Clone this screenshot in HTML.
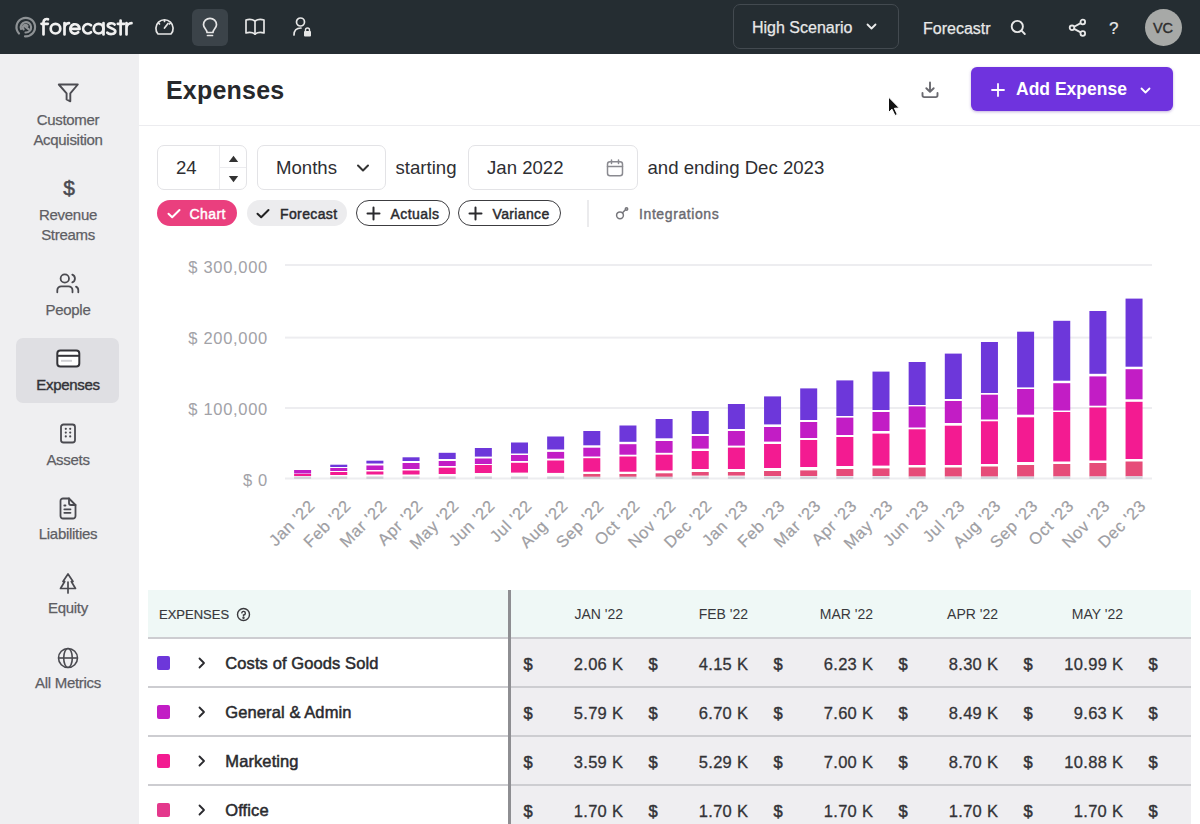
<!DOCTYPE html>
<html><head><meta charset="utf-8">
<style>
*{margin:0;padding:0;box-sizing:border-box}
html,body{width:1200px;height:824px;overflow:hidden;background:#fff;font-family:"Liberation Sans",sans-serif;color:#2b2b2e}
.a{position:absolute;white-space:nowrap;line-height:1}
svg{position:absolute;overflow:visible}
#hdr{position:absolute;left:0;top:0;width:1200px;height:54px;background:#252d32}
#side{position:absolute;left:0;top:54px;width:139px;height:770px;background:#efeff1}
.sl{position:absolute;left:0;width:136px;text-align:center;font-size:15px;letter-spacing:-0.3px;color:#5e5e64;-webkit-text-stroke:0.25px #5e5e64;line-height:1}
</style></head><body>
<div id="hdr"></div>
<!-- logo -->
<svg style="left:0;top:0" width="140" height="54" viewBox="0 0 140 54" fill="none" stroke-linecap="round" stroke-linejoin="round">
  <g stroke="#8e9295" stroke-width="2.2">
    <path d="M19 33.5 A9.3 9.3 0 1 1 25 36.4"/>
    <path d="M21 29 A5.2 5.2 0 1 1 25.5 32.5"/>
    <path d="M24.2 25.8 L28.5 29.2"/>
    <path d="M23.6 29.4 A2.6 2.6 0 1 1 27.5 26"/>
  </g>
  <g stroke="#f0f0f0" stroke-width="2.7">
    <path d="M43.5 34.5 V22 A3.2 3.2 0 0 1 48 19.3"/>
    <path d="M41.5 23.8 H47.8"/>
    <circle cx="55.5" cy="28.7" r="4.8"/>
    <path d="M64.5 34.5 V23 M64.5 27.5 A5 5 0 0 1 69 23.2"/>
    <path d="M70.4 28.9 H79.6 A4.7 4.7 0 1 0 78.2 32.3"/>
    <path d="M91 25.2 A4.7 4.7 0 1 0 91 32.2"/>
    <circle cx="98.6" cy="28.7" r="4.8"/>
    <path d="M103.5 23 V34.5"/>
    <path d="M114.6 24.5 C113.5 22.8 107.8 22.6 107.8 25.6 C107.8 28.6 115.3 27.9 115.3 31.3 C115.3 34.8 108.8 34.6 107.3 32.6"/>
    <path d="M120.6 20.5 V34.5 M117.8 23.8 H124.2"/>
    <path d="M126.5 34.5 V23 M126.5 27.5 A5 5 0 0 1 131.5 23.2"/>
  </g>
</svg>
<div class="a" style="display:none">forecastr</div>
<!-- header icons -->
<div style="position:absolute;left:192px;top:9px;width:36px;height:37px;border-radius:6px;background:#3b4349"></div>
<svg style="left:154px;top:17px" width="21" height="20" viewBox="0 0 21 20" fill="none" stroke="#e6e6e6" stroke-width="1.7" stroke-linecap="round" stroke-linejoin="round">
  <path d="M4 17 A8.6 8.6 0 1 1 17 17 Z"/>
  <path d="M10.5 11 L14 6.5"/><path d="M10.5 3 v1.5"/><path d="M4.5 6 l1 1"/><path d="M16.5 6 l-1 1"/>
</svg>
<svg style="left:201px;top:18px" width="18" height="19" viewBox="0 0 18 19" fill="none" stroke="#e6e6e6" stroke-width="1.7" stroke-linecap="round" stroke-linejoin="round">
  <path d="M6 14.5 C6 11.5 2.5 10 2.5 6.8 A6.5 6.5 0 0 1 15.5 6.8 C15.5 10 12 11.5 12 14.5 Z"/>
  <path d="M6.5 17.5 H11.5"/>
</svg>
<svg style="left:244px;top:17px" width="22" height="20" viewBox="0 0 22 20" fill="none" stroke="#e6e6e6" stroke-width="1.7" stroke-linejoin="round">
  <path d="M11 4 C8 2 5 2 2 3 V16 C5 15 8 15 11 17 C14 15 17 15 20 16 V3 C17 2 14 2 11 4 Z"/>
  <path d="M11 4 V18"/>
</svg>
<svg style="left:292px;top:16px" width="20" height="22" viewBox="0 0 20 22" fill="none" stroke="#e6e6e6" stroke-width="1.7" stroke-linecap="round">
  <circle cx="8.5" cy="6" r="4"/>
  <path d="M2 19 C2 14 5 12 9 12"/>
  <rect x="12" y="15" width="7" height="5.5" rx="1" fill="#e6e6e6" stroke="none"/>
  <path d="M13.5 15.5 v-1.5 a2 2 0 0 1 4 0 v1.5" stroke-width="1.4"/>
</svg>
<!-- scenario -->
<div style="position:absolute;left:733px;top:4px;width:166px;height:45px;border:1.5px solid #434a50;border-radius:7px"></div>
<div class="a" style="left:752px;top:19.5px;font-size:16px;color:#e8e8e8;-webkit-text-stroke:0.25px #e8e8e8">High Scenario</div>
<svg style="left:866px;top:23px" width="11" height="8" viewBox="0 0 11 8" fill="none" stroke="#ececec" stroke-width="1.8" stroke-linecap="round" stroke-linejoin="round"><path d="M1.5 1.5 L5.5 5.5 L9.5 1.5"/></svg>
<div class="a" style="left:923px;top:20.5px;font-size:16px;color:#e8e8e8;-webkit-text-stroke:0.25px #e8e8e8">Forecastr</div>
<svg style="left:1010px;top:19px" width="17" height="17" viewBox="0 0 17 17" fill="none" stroke="#e8e8e8" stroke-width="1.9" stroke-linecap="round"><circle cx="7.3" cy="7.5" r="5.6"/><path d="M11.5 11.7 L14.8 15"/></svg>
<svg style="left:1068px;top:18px" width="19" height="19" viewBox="0 0 19 19" fill="none" stroke="#e8e8e8" stroke-width="1.8"><circle cx="14.8" cy="4" r="2.3"/><circle cx="4" cy="9.8" r="2.3"/><circle cx="14.8" cy="15.5" r="2.3"/><path d="M6.1 8.7 L12.7 5.1 M6.1 10.9 L12.7 14.4"/></svg>
<div class="a" style="left:1109px;top:20px;font-size:17px;color:#e8e8e8;-webkit-text-stroke:0.2px #e8e8e8">?</div>
<div style="position:absolute;left:1145px;top:8.5px;width:37px;height:37px;border-radius:50%;background:#a7a9a7"></div>
<div class="a" style="left:1144.5px;top:20.5px;width:37px;text-align:center;font-size:14.5px;color:#2e2e2e;-webkit-text-stroke:0.4px #2e2e2e">VC</div>

<div id="side"></div>

<!-- sidebar items -->
<div style="position:absolute;left:16px;top:338px;width:103px;height:65px;border-radius:7px;background:#dfdfe3"></div>
<svg style="left:57px;top:83px" width="23" height="21" viewBox="0 0 23 21" fill="none" stroke="#4c4c52" stroke-width="1.9" stroke-linejoin="round"><path d="M1.8 1.5 H20.8 L13.3 10.3 V18.3 L9.6 16.5 V10.3 Z"/></svg>
<div class="sl" style="top:111.5px">Customer</div>
<div class="sl" style="top:132px">Acquisition</div>
<div class="a" style="left:0;width:138px;text-align:center;top:177px;font-size:21px;color:#4a4a50;-webkit-text-stroke:0.5px #4a4a50">$</div>
<div class="sl" style="top:206.5px">Revenue</div>
<div class="sl" style="top:226.5px">Streams</div>
<svg style="left:55px;top:272px" width="25" height="22" viewBox="0 0 25 22" fill="none" stroke="#4a4a50" stroke-width="1.8" stroke-linecap="round"><circle cx="9.8" cy="6.5" r="4.2"/><path d="M2.3 20.3 V18.3 A4 4 0 0 1 6.3 14.3 H13.5 A4 4 0 0 1 17.5 18.3 V20.3"/><path d="M17.3 2.6 A4.2 4.2 0 0 1 17.3 10.4"/><path d="M21 14.6 A4 4 0 0 1 23.3 18.3 V20.3"/></svg>
<div class="sl" style="top:302px">People</div>
<svg style="left:56px;top:349px" width="25" height="19" viewBox="0 0 25 19" fill="none" stroke="#333338" stroke-width="2"><rect x="1.3" y="1.5" width="22" height="16" rx="3" fill="#fff"/><path d="M1.3 6.8 H23.3"/><path d="M5 11.8 H16" stroke="#d0d0d4" stroke-width="2"/></svg>
<div class="sl" style="top:376.5px;color:#333338;-webkit-text-stroke:0.4px #333338">Expenses</div>
<svg style="left:59px;top:423px" width="18" height="21" viewBox="0 0 18 21" fill="none" stroke="#4a4a50" stroke-width="1.8"><rect x="2" y="1.5" width="14" height="18" rx="2.5"/><g fill="#4a4a50" stroke="none"><circle cx="6.8" cy="5.8" r="1.1"/><circle cx="11.2" cy="5.8" r="1.1"/><circle cx="6.8" cy="9.6" r="1.1"/><circle cx="11.2" cy="9.6" r="1.1"/><circle cx="6.8" cy="13.4" r="1.1"/><circle cx="11.2" cy="13.4" r="1.1"/></g></svg>
<div class="sl" style="top:451.5px">Assets</div>
<svg style="left:58px;top:497px" width="20" height="23" viewBox="0 0 20 23" fill="none" stroke="#4a4a50" stroke-width="1.8" stroke-linejoin="round" stroke-linecap="round"><path d="M2.5 4 A2.5 2.5 0 0 1 5 1.5 H11 L17.5 8 V19 A2.5 2.5 0 0 1 15 21.5 H5 A2.5 2.5 0 0 1 2.5 19 Z"/><path d="M11 1.5 V6 A2 2 0 0 0 13 8 H17.5"/><path d="M6.3 8.5 H7.5 M6.3 12.3 H12.5 M6.3 15.8 H12.5"/></svg>
<div class="sl" style="top:525.5px">Liabilities</div>
<svg style="left:58px;top:572px" width="20" height="23" viewBox="0 0 20 23" fill="none" stroke="#4a4a50" stroke-width="1.7" stroke-linejoin="round" stroke-linecap="round"><path d="M10 2 L15 9.5 H13.3 L17.5 16.5 H2.5 L6.7 9.5 H5 Z"/><path d="M10 10 V21"/></svg>
<div class="sl" style="top:600px">Equity</div>
<svg style="left:57px;top:647px" width="22" height="22" viewBox="0 0 22 22" fill="none" stroke="#4a4a50" stroke-width="1.6"><circle cx="11" cy="11" r="9.5"/><path d="M1.5 11 H20.5"/><ellipse cx="11" cy="11" rx="4.3" ry="9.5"/></svg>
<div class="sl" style="top:675px">All Metrics</div>

<!-- title area -->
<div class="a" style="left:166px;top:77.5px;font-size:25px;font-weight:bold;color:#27292c;letter-spacing:0.2px">Expenses</div>
<div style="position:absolute;left:139px;top:125px;width:1061px;height:1px;background:#ececef"></div>
<svg style="left:920px;top:81px" width="20" height="18" viewBox="0 0 20 18" fill="none" stroke="#6a6a70" stroke-width="1.9" stroke-linecap="round" stroke-linejoin="round"><path d="M10 1.5 V10.5 M6.3 7.2 L10 10.8 L13.7 7.2"/><path d="M2.5 12 V14.3 A1.8 1.8 0 0 0 4.3 16.1 H15.7 A1.8 1.8 0 0 0 17.5 14.3 V12"/></svg>
<svg style="left:887px;top:96px" width="14" height="21" viewBox="0 0 14 21"><path d="M1.5 1 V16.5 L5 13.2 L8 19.5 L10.3 18.4 L7.4 12.3 L12.3 12 Z" fill="#111" stroke="#fff" stroke-width="1"/></svg>
<div style="position:absolute;left:971px;top:67px;width:202px;height:44px;border-radius:6px;background:#6f33de;box-shadow:0 1px 3px rgba(80,30,160,0.35)"></div>
<svg style="left:990px;top:82px" width="16" height="16" viewBox="0 0 16 16" stroke="#fff" stroke-width="1.8" stroke-linecap="round"><path d="M8 2 V14 M2 8 H14"/></svg>
<div class="a" style="left:1016px;top:81px;font-size:17.5px;font-weight:bold;color:#fff">Add Expense</div>
<svg style="left:1140px;top:87px" width="11" height="7" viewBox="0 0 11 7" fill="none" stroke="#fff" stroke-width="1.8" stroke-linecap="round" stroke-linejoin="round"><path d="M1.5 1.5 L5.5 5.5 L9.5 1.5"/></svg>









<!-- GEN START -->
<div style="position:absolute;border:1px solid #e3e3e6;border-radius:7px;background:#fff;left:157px;top:145px;width:90px;height:45px"></div>
<div style="position:absolute;left:219px;top:146px;width:1px;height:43px;background:#ececef"></div>
<div style="position:absolute;left:220px;top:167px;width:26px;height:1px;background:#ececef"></div>
<svg style="left:228px;top:155px" width="11" height="8" viewBox="0 0 11 8"><path d="M5.5 0.8 L10.2 7 H0.8 Z" fill="#333"/></svg>
<svg style="left:228px;top:175px" width="11" height="8" viewBox="0 0 11 8"><path d="M5.5 7.2 L10.2 1 H0.8 Z" fill="#333"/></svg>
<div class="a" style="left:176px;top:159.16px;font-size:18.6px;color:#2e2e32">24</div>
<div style="position:absolute;border:1px solid #e3e3e6;border-radius:7px;background:#fff;left:257px;top:145px;width:129px;height:45px"></div>
<div class="a" style="left:276px;top:159.16px;font-size:18.6px;color:#2e2e32">Months</div>
<svg style="left:356px;top:163px" width="14" height="10" viewBox="0 0 14 10" fill="none" stroke="#333" stroke-width="2" stroke-linecap="round" stroke-linejoin="round"><path d="M2 2.5 L7 7.5 L12 2.5"/></svg>
<div class="a" style="left:395.5px;top:159.16px;font-size:18.6px;color:#2e2e32">starting</div>
<div style="position:absolute;border:1px solid #e3e3e6;border-radius:7px;background:#fff;left:468px;top:145px;width:170px;height:45px"></div>
<div class="a" style="left:487px;top:159.16px;font-size:18.6px;color:#2e2e32">Jan 2022</div>
<svg style="left:606px;top:159px" width="18" height="18" viewBox="0 0 18 18" fill="none" stroke="#8a8a90" stroke-width="1.5" stroke-linecap="round"><rect x="1.5" y="2.8" width="15" height="14" rx="2.5"/><path d="M1.5 7.5 H16.5 M5.5 1 V4.5 M12.5 1 V4.5"/></svg>
<div class="a" style="left:647.5px;top:159.16px;font-size:18.6px;color:#2e2e32">and ending Dec 2023</div>
<div style="position:absolute;left:157px;top:200px;width:80px;height:26px;border-radius:13px;background:#ea3f7e"></div>
<svg style="left:166px;top:207px" width="16" height="13" viewBox="0 0 16 13" fill="none" stroke="#fff" stroke-width="2" stroke-linecap="round" stroke-linejoin="round"><path d="M2.5 6.8 L6.2 10.3 L13.5 3"/></svg>
<div class="a" style="left:189.5px;top:206.65px;font-size:14px;color:#fff;-webkit-text-stroke:0.45px #fff;letter-spacing:0.4px">Chart</div>
<div style="position:absolute;left:247px;top:200px;width:100px;height:26px;border-radius:13px;background:#ececee"></div>
<svg style="left:255px;top:207px" width="16" height="13" viewBox="0 0 16 13" fill="none" stroke="#222" stroke-width="2" stroke-linecap="round" stroke-linejoin="round"><path d="M2.5 6.8 L6.2 10.3 L13.5 3"/></svg>
<div class="a" style="left:280px;top:206.65px;font-size:14px;color:#2a2a2e;-webkit-text-stroke:0.45px #2a2a2e;letter-spacing:0.38px">Forecast</div>
<div style="position:absolute;left:356px;top:200px;width:94px;height:26px;border-radius:13px;border:1.5px solid #3c3c40"></div>
<svg style="left:366px;top:206px" width="15" height="15" viewBox="0 0 15 15" stroke="#2a2a2e" stroke-width="2" stroke-linecap="round"><path d="M7.5 1.5 V13.5 M1.5 7.5 H13.5"/></svg>
<div class="a" style="left:390.5px;top:206.65px;font-size:14px;color:#2a2a2e;-webkit-text-stroke:0.45px #2a2a2e;letter-spacing:0.44px">Actuals</div>
<div style="position:absolute;left:458px;top:200px;width:103px;height:26px;border-radius:13px;border:1.5px solid #3c3c40"></div>
<svg style="left:468px;top:206px" width="15" height="15" viewBox="0 0 15 15" stroke="#2a2a2e" stroke-width="2" stroke-linecap="round"><path d="M7.5 1.5 V13.5 M1.5 7.5 H13.5"/></svg>
<div class="a" style="left:492.5px;top:206.65px;font-size:14px;color:#2a2a2e;-webkit-text-stroke:0.45px #2a2a2e;letter-spacing:0.36px">Variance</div>
<div style="position:absolute;left:587px;top:200px;width:2px;height:27px;background:#ebebed"></div>
<svg style="left:615px;top:206px" width="15" height="14" viewBox="0 0 15 14" fill="none" stroke="#77777c" stroke-width="1.5" stroke-linecap="round"><circle cx="5" cy="9.3" r="3.4"/><path d="M7.5 6.8 L10.5 3.8"/><circle cx="11.5" cy="3" r="1.2"/></svg>
<div class="a" style="left:639px;top:206.65px;font-size:14px;color:#6a6a70;-webkit-text-stroke:0.4px #6a6a70;letter-spacing:0.6px">Integrations</div>
<svg style="left:0;top:0" width="1200" height="824" viewBox="0 0 1200 824">
<rect x="285" y="264" width="867" height="2" fill="#ededf0"/>
<rect x="285" y="336.6" width="867" height="2" fill="#ededf0"/>
<rect x="285" y="407" width="867" height="2" fill="#ededf0"/>
<rect x="285" y="477.5" width="867" height="2" fill="#ededf0"/>
</svg>
<div class="a" style="left:0;width:268px;text-align:right;top:258.53px;font-size:16.5px;letter-spacing:0.7px;color:#a2a2a7">$ 300,000</div>
<div class="a" style="left:0;width:268px;text-align:right;top:330.03px;font-size:16.5px;letter-spacing:0.7px;color:#a2a2a7">$ 200,000</div>
<div class="a" style="left:0;width:268px;text-align:right;top:401.03px;font-size:16.5px;letter-spacing:0.7px;color:#a2a2a7">$ 100,000</div>
<div class="a" style="left:0;width:268px;text-align:right;top:472.03px;font-size:16.5px;letter-spacing:0.7px;color:#a2a2a7">$ 0</div>
<svg style="left:0;top:0" width="1200" height="824" viewBox="0 0 1200 824">
<rect x="294.10" y="470.00" width="17" height="3.50" fill="#c21dc5"/>
<rect x="294.10" y="474.00" width="17" height="2.00" fill="#f31b91"/>
<rect x="294.10" y="476.50" width="17" height="2.50" fill="#d3d1d9"/>
<rect x="330.25" y="464.70" width="17" height="2.30" fill="#6d37da"/>
<rect x="330.25" y="468.00" width="17" height="3.00" fill="#c21dc5"/>
<rect x="330.25" y="472.00" width="17" height="3.00" fill="#f31b91"/>
<rect x="330.25" y="476.50" width="17" height="2.50" fill="#d3d1d9"/>
<rect x="366.40" y="460.70" width="17" height="2.80" fill="#6d37da"/>
<rect x="366.40" y="465.50" width="17" height="4.50" fill="#c21dc5"/>
<rect x="366.40" y="471.50" width="17" height="3.00" fill="#f31b91"/>
<rect x="366.40" y="476.50" width="17" height="2.50" fill="#d3d1d9"/>
<rect x="402.55" y="457.30" width="17" height="3.70" fill="#6d37da"/>
<rect x="402.55" y="463.00" width="17" height="6.00" fill="#c21dc5"/>
<rect x="402.55" y="470.50" width="17" height="4.00" fill="#f31b91"/>
<rect x="402.55" y="476.50" width="17" height="2.50" fill="#d3d1d9"/>
<rect x="438.70" y="452.80" width="17" height="6.20" fill="#6d37da"/>
<rect x="438.70" y="461.00" width="17" height="5.00" fill="#c21dc5"/>
<rect x="438.70" y="467.70" width="17" height="6.30" fill="#f31b91"/>
<rect x="438.70" y="476.50" width="17" height="2.50" fill="#d3d1d9"/>
<rect x="474.85" y="448.00" width="17" height="8.60" fill="#6d37da"/>
<rect x="474.85" y="458.50" width="17" height="5.50" fill="#c21dc5"/>
<rect x="474.85" y="465.00" width="17" height="8.00" fill="#f31b91"/>
<rect x="474.85" y="476.50" width="17" height="2.50" fill="#d3d1d9"/>
<rect x="511.00" y="442.50" width="17" height="11.00" fill="#6d37da"/>
<rect x="511.00" y="455.00" width="17" height="6.00" fill="#c21dc5"/>
<rect x="511.00" y="462.80" width="17" height="9.80" fill="#f31b91"/>
<rect x="511.00" y="476.50" width="17" height="2.50" fill="#d3d1d9"/>
<rect x="547.15" y="436.50" width="17" height="13.00" fill="#6d37da"/>
<rect x="547.15" y="451.90" width="17" height="6.70" fill="#c21dc5"/>
<rect x="547.15" y="460.50" width="17" height="12.40" fill="#f31b91"/>
<rect x="547.15" y="476.50" width="17" height="2.50" fill="#d3d1d9"/>
<rect x="583.30" y="431.00" width="17" height="14.30" fill="#6d37da"/>
<rect x="583.30" y="447.70" width="17" height="8.80" fill="#c21dc5"/>
<rect x="583.30" y="458.20" width="17" height="13.50" fill="#f31b91"/>
<rect x="583.30" y="474.00" width="17" height="2.80" fill="#e64c79"/>
<rect x="583.30" y="476.80" width="17" height="2.20" fill="#d3d1d9"/>
<rect x="619.45" y="425.50" width="17" height="16.30" fill="#6d37da"/>
<rect x="619.45" y="444.20" width="17" height="10.50" fill="#c21dc5"/>
<rect x="619.45" y="456.50" width="17" height="15.20" fill="#f31b91"/>
<rect x="619.45" y="474.00" width="17" height="2.80" fill="#e64c79"/>
<rect x="619.45" y="476.80" width="17" height="2.20" fill="#d3d1d9"/>
<rect x="655.60" y="419.00" width="17" height="19.30" fill="#6d37da"/>
<rect x="655.60" y="441.00" width="17" height="11.80" fill="#c21dc5"/>
<rect x="655.60" y="454.70" width="17" height="15.80" fill="#f31b91"/>
<rect x="655.60" y="473.30" width="17" height="3.50" fill="#e64c79"/>
<rect x="655.60" y="476.80" width="17" height="2.20" fill="#d3d1d9"/>
<rect x="691.75" y="411.00" width="17" height="23.00" fill="#6d37da"/>
<rect x="691.75" y="436.00" width="17" height="12.60" fill="#c21dc5"/>
<rect x="691.75" y="451.00" width="17" height="18.00" fill="#f31b91"/>
<rect x="691.75" y="472.00" width="17" height="3.60" fill="#e64c79"/>
<rect x="691.75" y="476.50" width="17" height="2.50" fill="#d3d1d9"/>
<rect x="727.90" y="404.00" width="17" height="25.00" fill="#6d37da"/>
<rect x="727.90" y="431.00" width="17" height="14.60" fill="#c21dc5"/>
<rect x="727.90" y="447.60" width="17" height="21.40" fill="#f31b91"/>
<rect x="727.90" y="472.00" width="17" height="3.60" fill="#e64c79"/>
<rect x="727.90" y="476.50" width="17" height="2.50" fill="#d3d1d9"/>
<rect x="764.05" y="396.40" width="17" height="28.00" fill="#6d37da"/>
<rect x="764.05" y="427.00" width="17" height="14.60" fill="#c21dc5"/>
<rect x="764.05" y="444.00" width="17" height="24.00" fill="#f31b91"/>
<rect x="764.05" y="471.00" width="17" height="5.00" fill="#e64c79"/>
<rect x="764.05" y="476.50" width="17" height="2.50" fill="#d3d1d9"/>
<rect x="800.20" y="388.40" width="17" height="31.60" fill="#6d37da"/>
<rect x="800.20" y="422.00" width="17" height="16.00" fill="#c21dc5"/>
<rect x="800.20" y="440.00" width="17" height="27.00" fill="#f31b91"/>
<rect x="800.20" y="470.40" width="17" height="5.60" fill="#e64c79"/>
<rect x="800.20" y="476.50" width="17" height="2.50" fill="#d3d1d9"/>
<rect x="836.35" y="380.40" width="17" height="35.60" fill="#6d37da"/>
<rect x="836.35" y="417.60" width="17" height="17.40" fill="#c21dc5"/>
<rect x="836.35" y="437.00" width="17" height="29.00" fill="#f31b91"/>
<rect x="836.35" y="469.00" width="17" height="7.00" fill="#e64c79"/>
<rect x="836.35" y="476.50" width="17" height="2.50" fill="#d3d1d9"/>
<rect x="872.50" y="371.60" width="17" height="38.40" fill="#6d37da"/>
<rect x="872.50" y="412.00" width="17" height="19.00" fill="#c21dc5"/>
<rect x="872.50" y="433.60" width="17" height="32.00" fill="#f31b91"/>
<rect x="872.50" y="468.40" width="17" height="7.60" fill="#e64c79"/>
<rect x="872.50" y="476.50" width="17" height="2.50" fill="#d3d1d9"/>
<rect x="908.65" y="362.00" width="17" height="43.00" fill="#6d37da"/>
<rect x="908.65" y="406.40" width="17" height="21.10" fill="#c21dc5"/>
<rect x="908.65" y="429.30" width="17" height="35.70" fill="#f31b91"/>
<rect x="908.65" y="467.50" width="17" height="9.10" fill="#e64c79"/>
<rect x="908.65" y="476.60" width="17" height="2.40" fill="#d3d1d9"/>
<rect x="944.80" y="353.60" width="17" height="45.40" fill="#6d37da"/>
<rect x="944.80" y="401.00" width="17" height="22.00" fill="#c21dc5"/>
<rect x="944.80" y="425.70" width="17" height="39.30" fill="#f31b91"/>
<rect x="944.80" y="467.50" width="17" height="9.10" fill="#e64c79"/>
<rect x="944.80" y="476.60" width="17" height="2.40" fill="#d3d1d9"/>
<rect x="980.95" y="342.00" width="17" height="51.00" fill="#6d37da"/>
<rect x="980.95" y="394.70" width="17" height="24.80" fill="#c21dc5"/>
<rect x="980.95" y="421.30" width="17" height="42.70" fill="#f31b91"/>
<rect x="980.95" y="466.50" width="17" height="10.10" fill="#e64c79"/>
<rect x="980.95" y="476.60" width="17" height="2.40" fill="#d3d1d9"/>
<rect x="1017.10" y="331.70" width="17" height="55.70" fill="#6d37da"/>
<rect x="1017.10" y="389.00" width="17" height="25.70" fill="#c21dc5"/>
<rect x="1017.10" y="417.30" width="17" height="44.70" fill="#f31b91"/>
<rect x="1017.10" y="465.00" width="17" height="11.60" fill="#e64c79"/>
<rect x="1017.10" y="476.60" width="17" height="2.40" fill="#d3d1d9"/>
<rect x="1053.25" y="320.80" width="17" height="59.90" fill="#6d37da"/>
<rect x="1053.25" y="383.20" width="17" height="27.30" fill="#c21dc5"/>
<rect x="1053.25" y="412.00" width="17" height="49.50" fill="#f31b91"/>
<rect x="1053.25" y="464.00" width="17" height="12.50" fill="#e64c79"/>
<rect x="1053.25" y="476.50" width="17" height="2.50" fill="#d3d1d9"/>
<rect x="1089.40" y="311.00" width="17" height="62.80" fill="#6d37da"/>
<rect x="1089.40" y="376.40" width="17" height="29.30" fill="#c21dc5"/>
<rect x="1089.40" y="407.50" width="17" height="53.00" fill="#f31b91"/>
<rect x="1089.40" y="463.00" width="17" height="13.50" fill="#e64c79"/>
<rect x="1089.40" y="476.50" width="17" height="2.50" fill="#d3d1d9"/>
<rect x="1125.55" y="298.60" width="17" height="68.10" fill="#6d37da"/>
<rect x="1125.55" y="369.20" width="17" height="30.10" fill="#c21dc5"/>
<rect x="1125.55" y="401.80" width="17" height="57.20" fill="#f31b91"/>
<rect x="1125.55" y="461.50" width="17" height="14.80" fill="#e64c79"/>
<rect x="1125.55" y="476.30" width="17" height="2.70" fill="#d3d1d9"/>
</svg>
<div class="a" style="left:305.60px;top:496.5px;font-size:16.5px;letter-spacing:0.6px;color:#9e9ea3;-webkit-text-stroke:0.2px #9e9ea3;transform-origin:0 0;transform:rotate(-45deg) translateX(-100%)">Jan '22</div>
<div class="a" style="left:341.75px;top:496.5px;font-size:16.5px;letter-spacing:0.6px;color:#9e9ea3;-webkit-text-stroke:0.2px #9e9ea3;transform-origin:0 0;transform:rotate(-45deg) translateX(-100%)">Feb '22</div>
<div class="a" style="left:377.90px;top:496.5px;font-size:16.5px;letter-spacing:0.6px;color:#9e9ea3;-webkit-text-stroke:0.2px #9e9ea3;transform-origin:0 0;transform:rotate(-45deg) translateX(-100%)">Mar '22</div>
<div class="a" style="left:414.05px;top:496.5px;font-size:16.5px;letter-spacing:0.6px;color:#9e9ea3;-webkit-text-stroke:0.2px #9e9ea3;transform-origin:0 0;transform:rotate(-45deg) translateX(-100%)">Apr '22</div>
<div class="a" style="left:450.20px;top:496.5px;font-size:16.5px;letter-spacing:0.6px;color:#9e9ea3;-webkit-text-stroke:0.2px #9e9ea3;transform-origin:0 0;transform:rotate(-45deg) translateX(-100%)">May '22</div>
<div class="a" style="left:486.35px;top:496.5px;font-size:16.5px;letter-spacing:0.6px;color:#9e9ea3;-webkit-text-stroke:0.2px #9e9ea3;transform-origin:0 0;transform:rotate(-45deg) translateX(-100%)">Jun '22</div>
<div class="a" style="left:522.50px;top:496.5px;font-size:16.5px;letter-spacing:0.6px;color:#9e9ea3;-webkit-text-stroke:0.2px #9e9ea3;transform-origin:0 0;transform:rotate(-45deg) translateX(-100%)">Jul '22</div>
<div class="a" style="left:558.65px;top:496.5px;font-size:16.5px;letter-spacing:0.6px;color:#9e9ea3;-webkit-text-stroke:0.2px #9e9ea3;transform-origin:0 0;transform:rotate(-45deg) translateX(-100%)">Aug '22</div>
<div class="a" style="left:594.80px;top:496.5px;font-size:16.5px;letter-spacing:0.6px;color:#9e9ea3;-webkit-text-stroke:0.2px #9e9ea3;transform-origin:0 0;transform:rotate(-45deg) translateX(-100%)">Sep '22</div>
<div class="a" style="left:630.95px;top:496.5px;font-size:16.5px;letter-spacing:0.6px;color:#9e9ea3;-webkit-text-stroke:0.2px #9e9ea3;transform-origin:0 0;transform:rotate(-45deg) translateX(-100%)">Oct '22</div>
<div class="a" style="left:667.10px;top:496.5px;font-size:16.5px;letter-spacing:0.6px;color:#9e9ea3;-webkit-text-stroke:0.2px #9e9ea3;transform-origin:0 0;transform:rotate(-45deg) translateX(-100%)">Nov '22</div>
<div class="a" style="left:703.25px;top:496.5px;font-size:16.5px;letter-spacing:0.6px;color:#9e9ea3;-webkit-text-stroke:0.2px #9e9ea3;transform-origin:0 0;transform:rotate(-45deg) translateX(-100%)">Dec '22</div>
<div class="a" style="left:739.40px;top:496.5px;font-size:16.5px;letter-spacing:0.6px;color:#9e9ea3;-webkit-text-stroke:0.2px #9e9ea3;transform-origin:0 0;transform:rotate(-45deg) translateX(-100%)">Jan '23</div>
<div class="a" style="left:775.55px;top:496.5px;font-size:16.5px;letter-spacing:0.6px;color:#9e9ea3;-webkit-text-stroke:0.2px #9e9ea3;transform-origin:0 0;transform:rotate(-45deg) translateX(-100%)">Feb '23</div>
<div class="a" style="left:811.70px;top:496.5px;font-size:16.5px;letter-spacing:0.6px;color:#9e9ea3;-webkit-text-stroke:0.2px #9e9ea3;transform-origin:0 0;transform:rotate(-45deg) translateX(-100%)">Mar '23</div>
<div class="a" style="left:847.85px;top:496.5px;font-size:16.5px;letter-spacing:0.6px;color:#9e9ea3;-webkit-text-stroke:0.2px #9e9ea3;transform-origin:0 0;transform:rotate(-45deg) translateX(-100%)">Apr '23</div>
<div class="a" style="left:884.00px;top:496.5px;font-size:16.5px;letter-spacing:0.6px;color:#9e9ea3;-webkit-text-stroke:0.2px #9e9ea3;transform-origin:0 0;transform:rotate(-45deg) translateX(-100%)">May '23</div>
<div class="a" style="left:920.15px;top:496.5px;font-size:16.5px;letter-spacing:0.6px;color:#9e9ea3;-webkit-text-stroke:0.2px #9e9ea3;transform-origin:0 0;transform:rotate(-45deg) translateX(-100%)">Jun '23</div>
<div class="a" style="left:956.30px;top:496.5px;font-size:16.5px;letter-spacing:0.6px;color:#9e9ea3;-webkit-text-stroke:0.2px #9e9ea3;transform-origin:0 0;transform:rotate(-45deg) translateX(-100%)">Jul '23</div>
<div class="a" style="left:992.45px;top:496.5px;font-size:16.5px;letter-spacing:0.6px;color:#9e9ea3;-webkit-text-stroke:0.2px #9e9ea3;transform-origin:0 0;transform:rotate(-45deg) translateX(-100%)">Aug '23</div>
<div class="a" style="left:1028.60px;top:496.5px;font-size:16.5px;letter-spacing:0.6px;color:#9e9ea3;-webkit-text-stroke:0.2px #9e9ea3;transform-origin:0 0;transform:rotate(-45deg) translateX(-100%)">Sep '23</div>
<div class="a" style="left:1064.75px;top:496.5px;font-size:16.5px;letter-spacing:0.6px;color:#9e9ea3;-webkit-text-stroke:0.2px #9e9ea3;transform-origin:0 0;transform:rotate(-45deg) translateX(-100%)">Oct '23</div>
<div class="a" style="left:1100.90px;top:496.5px;font-size:16.5px;letter-spacing:0.6px;color:#9e9ea3;-webkit-text-stroke:0.2px #9e9ea3;transform-origin:0 0;transform:rotate(-45deg) translateX(-100%)">Nov '23</div>
<div class="a" style="left:1137.05px;top:496.5px;font-size:16.5px;letter-spacing:0.6px;color:#9e9ea3;-webkit-text-stroke:0.2px #9e9ea3;transform-origin:0 0;transform:rotate(-45deg) translateX(-100%)">Dec '23</div>
<div style="position:absolute;left:148px;top:590px;width:1043px;height:48px;background:#eff8f6"></div>
<div style="position:absolute;left:511px;top:638px;width:680px;height:186px;background:#efeef1"></div>
<div style="position:absolute;left:148px;top:637px;width:1043px;height:2px;background:#cdcdd1"></div>
<div style="position:absolute;left:148px;top:686px;width:1043px;height:2px;background:#cdcdd1"></div>
<div style="position:absolute;left:148px;top:735px;width:1043px;height:2px;background:#cdcdd1"></div>
<div style="position:absolute;left:148px;top:784px;width:1043px;height:2px;background:#cdcdd1"></div>
<div style="position:absolute;left:508px;top:590px;width:3px;height:234px;background:#8e8e92"></div>
<div class="a" style="left:159px;top:607.70px;font-size:13px;color:#38383c;-webkit-text-stroke:0.2px #38383c">EXPENSES</div>
<svg style="left:236px;top:607px" width="15" height="15" viewBox="0 0 15 15" fill="none" stroke="#3a3a3e" stroke-width="1.4" stroke-linecap="round"><circle cx="7.5" cy="7.5" r="6"/><path d="M5.8 5.8 A1.8 1.8 0 1 1 7.5 8 V8.8"/><circle cx="7.5" cy="10.8" r="0.5" fill="#3a3a3e"/></svg>
<div class="a" style="left:511px;width:112px;text-align:right;top:607.15px;font-size:14px;color:#38383c">JAN '22</div>
<div class="a" style="left:636px;width:112px;text-align:right;top:607.15px;font-size:14px;color:#38383c">FEB '22</div>
<div class="a" style="left:761px;width:112px;text-align:right;top:607.15px;font-size:14px;color:#38383c">MAR '22</div>
<div class="a" style="left:886px;width:112px;text-align:right;top:607.15px;font-size:14px;color:#38383c">APR '22</div>
<div class="a" style="left:1011px;width:112px;text-align:right;top:607.15px;font-size:14px;color:#38383c">MAY '22</div>
<div style="position:absolute;left:156.5px;top:656.0px;width:13.5px;height:13.5px;border-radius:2px;background:#6d37da"></div>
<svg style="left:197px;top:656.5px" width="10" height="12" viewBox="0 0 10 12" fill="none" stroke="#2a2a2e" stroke-width="1.8" stroke-linecap="round" stroke-linejoin="round"><path d="M2.5 1.5 L7 6 L2.5 10.5"/></svg>
<div class="a" style="left:225.3px;top:655.23px;font-size:16.5px;color:#2a2a2e;-webkit-text-stroke:0.5px #2a2a2e;letter-spacing:0.1px">Costs of Goods Sold</div>
<div class="a" style="left:523.5px;top:656.03px;font-size:16.5px;color:#333337;-webkit-text-stroke:0.5px #333337">$</div>
<div class="a" style="left:511px;width:112.3px;text-align:right;top:656.03px;font-size:16.5px;letter-spacing:0.3px;color:#333337;-webkit-text-stroke:0.3px #333337">2.06 K</div>
<div class="a" style="left:648.5px;top:656.03px;font-size:16.5px;color:#333337;-webkit-text-stroke:0.5px #333337">$</div>
<div class="a" style="left:636px;width:112.3px;text-align:right;top:656.03px;font-size:16.5px;letter-spacing:0.3px;color:#333337;-webkit-text-stroke:0.3px #333337">4.15 K</div>
<div class="a" style="left:773.5px;top:656.03px;font-size:16.5px;color:#333337;-webkit-text-stroke:0.5px #333337">$</div>
<div class="a" style="left:761px;width:112.3px;text-align:right;top:656.03px;font-size:16.5px;letter-spacing:0.3px;color:#333337;-webkit-text-stroke:0.3px #333337">6.23 K</div>
<div class="a" style="left:898.5px;top:656.03px;font-size:16.5px;color:#333337;-webkit-text-stroke:0.5px #333337">$</div>
<div class="a" style="left:886px;width:112.3px;text-align:right;top:656.03px;font-size:16.5px;letter-spacing:0.3px;color:#333337;-webkit-text-stroke:0.3px #333337">8.30 K</div>
<div class="a" style="left:1023.5px;top:656.03px;font-size:16.5px;color:#333337;-webkit-text-stroke:0.5px #333337">$</div>
<div class="a" style="left:1011px;width:112.3px;text-align:right;top:656.03px;font-size:16.5px;letter-spacing:0.3px;color:#333337;-webkit-text-stroke:0.3px #333337">10.99 K</div>
<div class="a" style="left:1148.5px;top:656.03px;font-size:16.5px;color:#333337;-webkit-text-stroke:0.5px #333337">$</div>
<div style="position:absolute;left:156.5px;top:705.0px;width:13.5px;height:13.5px;border-radius:2px;background:#c21dc5"></div>
<svg style="left:197px;top:705.5px" width="10" height="12" viewBox="0 0 10 12" fill="none" stroke="#2a2a2e" stroke-width="1.8" stroke-linecap="round" stroke-linejoin="round"><path d="M2.5 1.5 L7 6 L2.5 10.5"/></svg>
<div class="a" style="left:225.3px;top:704.23px;font-size:16.5px;color:#2a2a2e;-webkit-text-stroke:0.5px #2a2a2e;letter-spacing:0.1px">General &amp; Admin</div>
<div class="a" style="left:523.5px;top:705.03px;font-size:16.5px;color:#333337;-webkit-text-stroke:0.5px #333337">$</div>
<div class="a" style="left:511px;width:112.3px;text-align:right;top:705.03px;font-size:16.5px;letter-spacing:0.3px;color:#333337;-webkit-text-stroke:0.3px #333337">5.79 K</div>
<div class="a" style="left:648.5px;top:705.03px;font-size:16.5px;color:#333337;-webkit-text-stroke:0.5px #333337">$</div>
<div class="a" style="left:636px;width:112.3px;text-align:right;top:705.03px;font-size:16.5px;letter-spacing:0.3px;color:#333337;-webkit-text-stroke:0.3px #333337">6.70 K</div>
<div class="a" style="left:773.5px;top:705.03px;font-size:16.5px;color:#333337;-webkit-text-stroke:0.5px #333337">$</div>
<div class="a" style="left:761px;width:112.3px;text-align:right;top:705.03px;font-size:16.5px;letter-spacing:0.3px;color:#333337;-webkit-text-stroke:0.3px #333337">7.60 K</div>
<div class="a" style="left:898.5px;top:705.03px;font-size:16.5px;color:#333337;-webkit-text-stroke:0.5px #333337">$</div>
<div class="a" style="left:886px;width:112.3px;text-align:right;top:705.03px;font-size:16.5px;letter-spacing:0.3px;color:#333337;-webkit-text-stroke:0.3px #333337">8.49 K</div>
<div class="a" style="left:1023.5px;top:705.03px;font-size:16.5px;color:#333337;-webkit-text-stroke:0.5px #333337">$</div>
<div class="a" style="left:1011px;width:112.3px;text-align:right;top:705.03px;font-size:16.5px;letter-spacing:0.3px;color:#333337;-webkit-text-stroke:0.3px #333337">9.63 K</div>
<div class="a" style="left:1148.5px;top:705.03px;font-size:16.5px;color:#333337;-webkit-text-stroke:0.5px #333337">$</div>
<div style="position:absolute;left:156.5px;top:754.0px;width:13.5px;height:13.5px;border-radius:2px;background:#f31b91"></div>
<svg style="left:197px;top:754.5px" width="10" height="12" viewBox="0 0 10 12" fill="none" stroke="#2a2a2e" stroke-width="1.8" stroke-linecap="round" stroke-linejoin="round"><path d="M2.5 1.5 L7 6 L2.5 10.5"/></svg>
<div class="a" style="left:225.3px;top:753.23px;font-size:16.5px;color:#2a2a2e;-webkit-text-stroke:0.5px #2a2a2e;letter-spacing:0.1px">Marketing</div>
<div class="a" style="left:523.5px;top:754.03px;font-size:16.5px;color:#333337;-webkit-text-stroke:0.5px #333337">$</div>
<div class="a" style="left:511px;width:112.3px;text-align:right;top:754.03px;font-size:16.5px;letter-spacing:0.3px;color:#333337;-webkit-text-stroke:0.3px #333337">3.59 K</div>
<div class="a" style="left:648.5px;top:754.03px;font-size:16.5px;color:#333337;-webkit-text-stroke:0.5px #333337">$</div>
<div class="a" style="left:636px;width:112.3px;text-align:right;top:754.03px;font-size:16.5px;letter-spacing:0.3px;color:#333337;-webkit-text-stroke:0.3px #333337">5.29 K</div>
<div class="a" style="left:773.5px;top:754.03px;font-size:16.5px;color:#333337;-webkit-text-stroke:0.5px #333337">$</div>
<div class="a" style="left:761px;width:112.3px;text-align:right;top:754.03px;font-size:16.5px;letter-spacing:0.3px;color:#333337;-webkit-text-stroke:0.3px #333337">7.00 K</div>
<div class="a" style="left:898.5px;top:754.03px;font-size:16.5px;color:#333337;-webkit-text-stroke:0.5px #333337">$</div>
<div class="a" style="left:886px;width:112.3px;text-align:right;top:754.03px;font-size:16.5px;letter-spacing:0.3px;color:#333337;-webkit-text-stroke:0.3px #333337">8.70 K</div>
<div class="a" style="left:1023.5px;top:754.03px;font-size:16.5px;color:#333337;-webkit-text-stroke:0.5px #333337">$</div>
<div class="a" style="left:1011px;width:112.3px;text-align:right;top:754.03px;font-size:16.5px;letter-spacing:0.3px;color:#333337;-webkit-text-stroke:0.3px #333337">10.88 K</div>
<div class="a" style="left:1148.5px;top:754.03px;font-size:16.5px;color:#333337;-webkit-text-stroke:0.5px #333337">$</div>
<div style="position:absolute;left:156.5px;top:803.0px;width:13.5px;height:13.5px;border-radius:2px;background:#e4388c"></div>
<svg style="left:197px;top:803.5px" width="10" height="12" viewBox="0 0 10 12" fill="none" stroke="#2a2a2e" stroke-width="1.8" stroke-linecap="round" stroke-linejoin="round"><path d="M2.5 1.5 L7 6 L2.5 10.5"/></svg>
<div class="a" style="left:225.3px;top:802.23px;font-size:16.5px;color:#2a2a2e;-webkit-text-stroke:0.5px #2a2a2e;letter-spacing:0.1px">Office</div>
<div class="a" style="left:523.5px;top:803.03px;font-size:16.5px;color:#333337;-webkit-text-stroke:0.5px #333337">$</div>
<div class="a" style="left:511px;width:112.3px;text-align:right;top:803.03px;font-size:16.5px;letter-spacing:0.3px;color:#333337;-webkit-text-stroke:0.3px #333337">1.70 K</div>
<div class="a" style="left:648.5px;top:803.03px;font-size:16.5px;color:#333337;-webkit-text-stroke:0.5px #333337">$</div>
<div class="a" style="left:636px;width:112.3px;text-align:right;top:803.03px;font-size:16.5px;letter-spacing:0.3px;color:#333337;-webkit-text-stroke:0.3px #333337">1.70 K</div>
<div class="a" style="left:773.5px;top:803.03px;font-size:16.5px;color:#333337;-webkit-text-stroke:0.5px #333337">$</div>
<div class="a" style="left:761px;width:112.3px;text-align:right;top:803.03px;font-size:16.5px;letter-spacing:0.3px;color:#333337;-webkit-text-stroke:0.3px #333337">1.70 K</div>
<div class="a" style="left:898.5px;top:803.03px;font-size:16.5px;color:#333337;-webkit-text-stroke:0.5px #333337">$</div>
<div class="a" style="left:886px;width:112.3px;text-align:right;top:803.03px;font-size:16.5px;letter-spacing:0.3px;color:#333337;-webkit-text-stroke:0.3px #333337">1.70 K</div>
<div class="a" style="left:1023.5px;top:803.03px;font-size:16.5px;color:#333337;-webkit-text-stroke:0.5px #333337">$</div>
<div class="a" style="left:1011px;width:112.3px;text-align:right;top:803.03px;font-size:16.5px;letter-spacing:0.3px;color:#333337;-webkit-text-stroke:0.3px #333337">1.70 K</div>
<div class="a" style="left:1148.5px;top:803.03px;font-size:16.5px;color:#333337;-webkit-text-stroke:0.5px #333337">$</div>
<!-- GEN END -->
</body></html>
